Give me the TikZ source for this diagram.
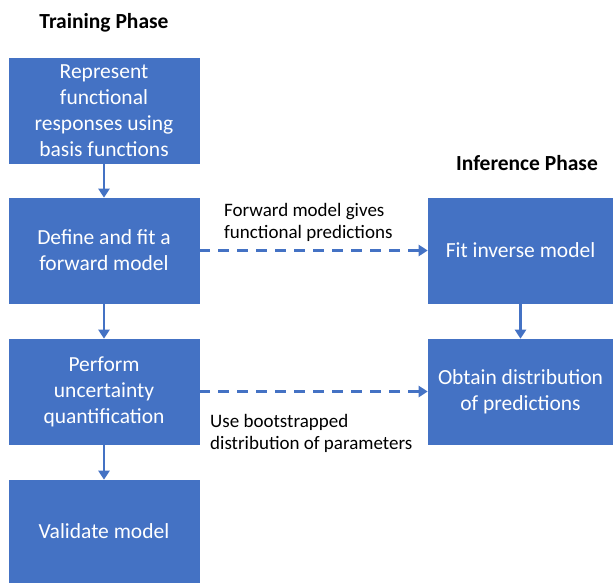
\documentclass[tikz,border=0pt]{standalone}
\usepackage{fontspec}
\setmainfont{Carlito}
\usetikzlibrary{arrows.meta}
\definecolor{boxblue}{HTML}{4472C4}
\begin{document}
\begin{tikzpicture}[x=1pt,y=-1pt,
  stepbox/.style={draw=boxblue,line width=0.6pt,fill=boxblue,text=white,align=center,
    minimum width=190pt,minimum height=105pt,inner sep=0pt,
    font=\fontsize{21.5}{26}\selectfont},
  phase/.style={font=\fontsize{21.5}{24}\selectfont\bfseries,text=black},
  note/.style={font=\fontsize{19}{22.5}\selectfont,align=left,anchor=west,inner sep=0pt},
  flow/.style={draw=boxblue,line width=2.8pt,-{Triangle[length=9pt,width=11pt]}},
  dashflow/.style={flow,dash pattern=on 11pt off 8pt}]
\useasboundingbox (0,0) rectangle (613,582);
% training column
\node[phase] (tp) at (104,23) {Training Phase};
\node[stepbox] (rep) at (104,110.5) {Represent\\functional\\responses using\\basis functions};
\node[stepbox] (fwd) at (104,250.5) {Define and fit a\\forward model};
\node[stepbox] (uq) at (104,391.5) {Perform\\uncertainty\\quantification};
\node[stepbox,minimum height=102pt] (val) at (104,531) {Validate model};
% inference column
\node[phase] (ip) at (527,163) {Inference Phase};
\node[stepbox,minimum width=185pt] (inv) at (520.5,250.5) {Fit inverse model};
\node[stepbox,minimum width=185pt] (dist) at (520.5,391.5) {Obtain distribution\\of predictions};
% connectors
\draw[flow] (rep.south) -- (fwd.north);
\draw[flow] (fwd.south) -- (uq.north);
\draw[flow] (uq.south) -- (val.north);
\draw[flow] (inv.south) -- (dist.north);
\draw[dashflow] (fwd.east) -- (inv.west);
\draw[dashflow] (uq.east) -- (dist.west);
% connector labels
\node[note] (lab1) at (224,222.5) {Forward model gives\\functional predictions};
\node[note] (lab2) at (210,433.5) {Use bootstrapped\\distribution of parameters};
\end{tikzpicture}
\end{document}
